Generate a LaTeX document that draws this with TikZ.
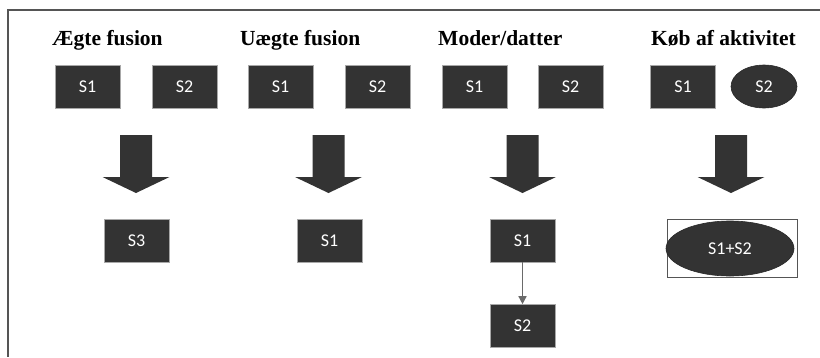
\documentclass[tikz,border=0pt]{standalone}
\usepackage{fontspec}
\setmainfont{Liberation Serif}
\newfontfamily\boxfont{Carlito}
\usetikzlibrary{shapes.geometric,arrows.meta}
\definecolor{boxfill}{HTML}{333333}
\definecolor{boxedge}{HTML}{A8A8A8}
\definecolor{framecol}{HTML}{555555}
\definecolor{linkcol}{HTML}{6A6A6A}
\tikzset{
  title/.style={anchor=base west, inner sep=0pt, font=\fontsize{21.5}{24}\selectfont\bfseries},
  sbox/.style={draw=boxedge, line width=0.6pt, fill=boxfill, text=white, minimum width=65pt, minimum height=43pt, inner sep=0pt, font=\boxfont\fontsize{18}{20}\selectfont},
  sell/.style={ellipse, draw=boxfill!80!black, line width=0.6pt, fill=boxfill, text=white, inner sep=0pt, font=\boxfont\fontsize{18}{20}\selectfont},
  pics/blockarrow/.style={code={
    \fill[boxfill] (-16,0) -- (16,0) -- (16,42) -- (33.5,42) -- (0,58) -- (-33.5,42) -- (-16,42) -- cycle;
  }},
  link/.style={draw=linkcol, line width=1.4pt, -{Triangle[length=8pt,width=8pt]}},
}
\begin{document}
\begin{tikzpicture}[x=1pt,y=-1pt]
\useasboundingbox (0,0) rectangle (820,357);
% frame (top and left edges)
\coordinate (ftr) at (820,10);
\coordinate (ftl) at (8,10);
\coordinate (fbl) at (8,357);
\draw[framecol, line width=1.1pt] (ftr) -- (ftl) -- (fbl);
% titles
\node[title] (t1) at (52,45) {Ægte fusion};
\node[title] (t2) at (240,45) {Uægte fusion};
\node[title] (t3) at (438,45) {Moder/datter};
\node[title] (t4) at (651,45) {Køb af aktivitet};
% top row
\node[sbox] (a1) at (87.5,86.5) {S1};
\node[sbox] (a2) at (184.5,86.5) {S2};
\node[sbox] (b1) at (280.5,86.5) {S1};
\node[sbox] (b2) at (377.5,86.5) {S2};
\node[sbox] (c1) at (474.5,86.5) {S1};
\node[sbox] (c2) at (570.5,86.5) {S2};
\node[sbox] (d1) at (683,86.5) {S1};
\node[sell, minimum width=66pt, minimum height=43pt] (d2) at (764,86.5) {S2};
% block arrows
\pic at (136,135) {blockarrow};
\pic at (328.5,135) {blockarrow};
\pic at (522.5,135) {blockarrow};
\pic at (731,135) {blockarrow};
% results
\node[sbox] (r1) at (136.5,240.5) {S3};
\node[sbox] (r2) at (329.5,240.5) {S1};
\node[sbox] (r3) at (522.5,240.5) {S1};
\node[sbox] (r3b) at (522.5,326) {S2};
\draw[link] (r3) -- (r3b);
\node[draw=framecol, line width=0.8pt, minimum width=130pt, minimum height=58pt, inner sep=0pt] (r4box) at (732,248) {};
\node[sell, minimum width=128pt, minimum height=55pt] (r4) at (730,248.5) {S1+S2};
\end{tikzpicture}
\end{document}
